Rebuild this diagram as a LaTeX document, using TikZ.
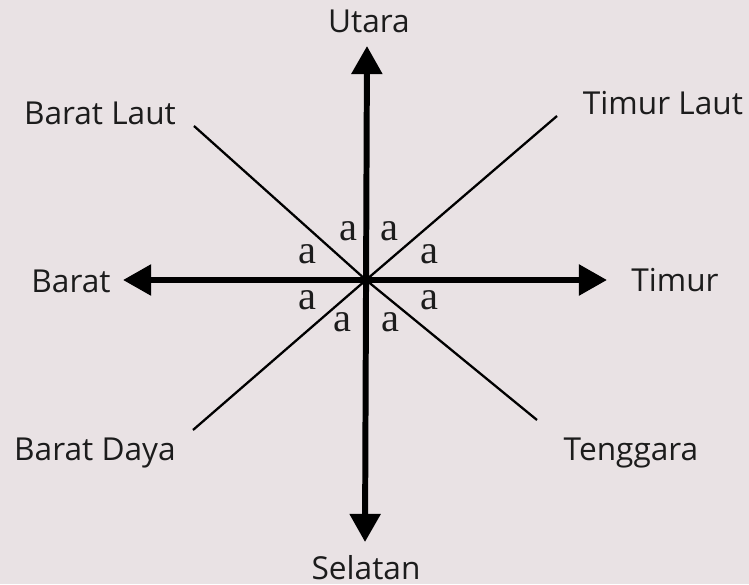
\documentclass[tikz,border=0pt]{standalone}
\usepackage{fontspec}
\setmainfont{Liberation Serif}
\newfontfamily\dirfont{Open Sans}
\usetikzlibrary{arrows.meta}
\definecolor{bgcolor}{RGB}{233,226,228}
\definecolor{inkcolor}{RGB}{28,28,28}

\begin{document}
\begin{tikzpicture}[x=0.02cm, y=0.02cm,
  axis/.style={line width=3.4pt, {Triangle[length=16pt,width=17pt]}-{Triangle[length=16pt,width=17pt]}},
  diag/.style={line width=1.3pt},
  dirlabel/.style={anchor=base, inner sep=0pt, text=inkcolor, font=\dirfont\fontsize{18}{20}\selectfont},
  anglabel/.style={inner sep=0pt, text=inkcolor, font=\fontsize{23}{25}\selectfont}]
  % 1 unit = 1px of the sketch, origin at the crossing
  \fill[bgcolor] (-366,-304) rectangle (383,280);
  \useasboundingbox (-366,-304) rectangle (383,280);

  % Ends of the axes and the diagonals
  \coordinate (O)  at (0,0);
  \coordinate (N)  at (1,234);
  \coordinate (S)  at (-1,-262);
  \coordinate (W)  at (-243,0);
  \coordinate (E)  at (241,0);
  \coordinate (NW) at (-172,154);
  \coordinate (NE) at (191,164);
  \coordinate (SW) at (-173,-150);
  \coordinate (SE) at (171,-140);

  % Diagonals
  \draw[diag] (O) -- (NW);
  \draw[diag] (O) -- (NE);
  \draw[diag] (O) -- (SW);
  \draw[diag] (O) -- (SE);

  % Main axes
  \draw[axis] (S) -- (N);
  \draw[axis] (W) -- (E);

  % Direction names
  \node[dirlabel] (utara)     at (3,247)     {Utara};
  \node[dirlabel] (selatan)   at (0,-299)    {Selatan};
  \node[dirlabel] (barat)     at (-295,-12)  {Barat};
  \node[dirlabel] (timur)     at (309,-11)   {Timur};
  \node[dirlabel] (baratlaut) at (-266,155)  {Barat Laut};
  \node[dirlabel] (timurlaut) at (297,165)   {Timur Laut};
  \node[dirlabel] (baratdaya) at (-271,-180) {Barat Daya};
  \node[dirlabel] (tenggara)  at (265,-180)  {Tenggara};

  % Equal angles
  \foreach \x/\y [count=\i] in {-18/49, 23/49, -59/26, 63/26, -59/-20, 63/-20, -24/-42, 24/-42}
    \node[anglabel] (ang\i) at (\x,\y) {a};

\end{tikzpicture}
\end{document}
